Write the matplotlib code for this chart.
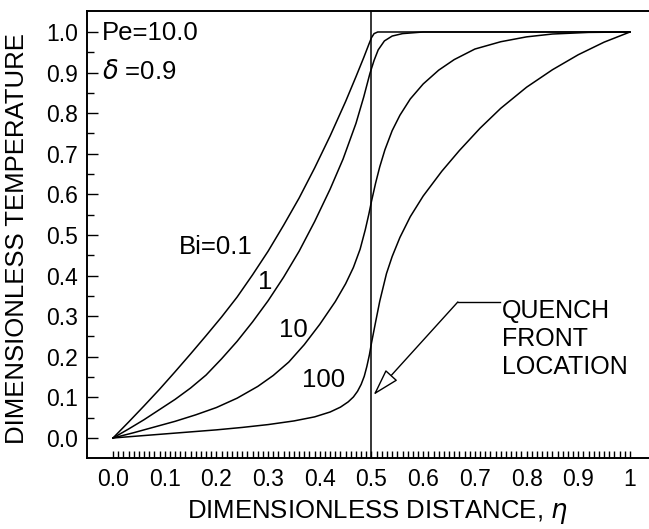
import numpy as np
import matplotlib
matplotlib.use("Agg")
import matplotlib.pyplot as plt
from matplotlib.ticker import FixedLocator, FixedFormatter

plt.rcParams['font.family'] = ['Liberation Sans', 'DejaVu Sans']
plt.rcParams['mathtext.fontset'] = 'dejavusans'

# curves (eta, temperature)
eta_bi01 = [0, 0.03, 0.06, 0.09, 0.12, 0.15, 0.18, 0.21, 0.24, 0.27, 0.30, 0.33, 0.36, 0.39, 0.42,
            0.45, 0.47, 0.485, 0.495, 0.5, 0.505, 0.512, 1.0]
t_bi01 = [0, 0.039, 0.079, 0.12, 0.163, 0.207, 0.252, 0.298, 0.347, 0.402, 0.460, 0.524, 0.591, 0.665,
          0.744, 0.829, 0.890, 0.937, 0.970, 0.986, 0.996, 1.0, 1.0]

eta_bi1 = [0, 0.03, 0.06, 0.09, 0.12, 0.15, 0.18, 0.21, 0.24, 0.27, 0.30, 0.33, 0.36, 0.39, 0.42,
           0.445, 0.47, 0.485, 0.497, 0.505, 0.513, 0.525, 0.54, 0.56, 0.6, 1.0]
t_bi1 = [0, 0.022, 0.045, 0.07, 0.095, 0.123, 0.155, 0.195, 0.238, 0.286, 0.338, 0.396, 0.460, 0.533,
         0.613, 0.687, 0.775, 0.84, 0.898, 0.93, 0.956, 0.978, 0.99, 0.996, 1.0, 1.0]

eta_bi10 = [0, 0.04, 0.08, 0.12, 0.16, 0.2, 0.24, 0.28, 0.31, 0.34, 0.37, 0.40, 0.43, 0.45, 0.465,
            0.478, 0.488, 0.495, 0.5, 0.508, 0.516, 0.526, 0.54, 0.555, 0.575, 0.6, 0.63, 0.66, 0.7,
            0.75, 0.8, 0.85, 0.92, 1.0]
t_bi10 = [0, 0.013, 0.027, 0.041, 0.057, 0.075, 0.098, 0.127, 0.154, 0.187, 0.23, 0.28, 0.336, 0.38,
          0.42, 0.465, 0.513, 0.552, 0.583, 0.628, 0.668, 0.71, 0.757, 0.795, 0.835, 0.872, 0.906,
          0.932, 0.958, 0.976, 0.988, 0.995, 0.999, 1.0]

eta_bi100 = [0, 0.05, 0.1, 0.15, 0.2, 0.25, 0.3, 0.35, 0.39, 0.42, 0.44, 0.455, 0.465, 0.473, 0.48,
             0.486, 0.491, 0.496, 0.5, 0.508, 0.516, 0.529, 0.54, 0.555, 0.575, 0.6, 0.636, 0.67,
             0.71, 0.75, 0.8, 0.85, 0.9, 0.95, 1.0]
t_bi100 = [0, 0.005, 0.010, 0.015, 0.020, 0.026, 0.033, 0.042, 0.052, 0.064, 0.076, 0.089, 0.101,
           0.115, 0.132, 0.152, 0.176, 0.205, 0.234, 0.286, 0.337, 0.405, 0.447, 0.494, 0.545, 0.596,
           0.657, 0.708, 0.763, 0.812, 0.864, 0.907, 0.944, 0.975, 1.0]

curve_labels = ["Bi=0.1", "1", "10", "100"]
label_pos = [(0.271, 0.470), (0.294, 0.384), (0.348, 0.266), (0.408, 0.143)]
label_ha = ["right", "center", "center", "center"]

quench_eta = 0.5
x_tick_labels = ["0.0", "0.1", "0.2", "0.3", "0.4", "0.5", "0.6", "0.7", "0.8", "0.9", "1"]

fig = plt.figure(figsize=(6.49, 5.29), dpi=100)
ax = fig.add_axes([87 / 649, 1 - 458 / 529, 1 - 87 / 649, (458 - 11) / 529])

for xs, ys in [(eta_bi01, t_bi01), (eta_bi1, t_bi1), (eta_bi10, t_bi10), (eta_bi100, t_bi100)]:
    ax.plot(xs, ys, color='black', lw=1.1, solid_joinstyle='round')

ax.axvline(quench_eta, color='black', lw=1.1)

for txt, (x, y), ha in zip(curve_labels, label_pos, label_ha):
    ax.text(x, y, txt, fontsize=18.5, ha=ha, va='center')

ax.text(-0.021, 0.998, "Pe=10.0", fontsize=18.5, ha='left', va='center')
ax.text(-0.021, 0.901, r"$\delta$ =0.9", fontsize=18.5, ha='left', va='center')

# quench front callout
ax.plot([0.749, 0.667], [0.335, 0.335], color='black', lw=1.0)
ax.annotate("", xy=(0.504, 0.106), xytext=(0.667, 0.335),
            arrowprops=dict(arrowstyle='-|>,head_length=1.7,head_width=0.5',
                            fc='white', ec='black', lw=1.0, shrinkA=0, shrinkB=0))
ax.text(0.752, 0.244, "QUENCH\nFRONT\nLOCATION", fontsize=18, ha='left', va='center',
        linespacing=1.2)

ax.set_xlim(-0.0503, 1.0368)
ax.set_ylim(-0.0493, 1.0517)

ax.spines['right'].set_visible(False)
for s in ['left', 'bottom', 'top']:
    ax.spines[s].set_linewidth(1.4)

ax.xaxis.set_major_locator(FixedLocator(np.arange(0, 1.001, 0.1)))
ax.xaxis.set_major_formatter(FixedFormatter(x_tick_labels))
ax.xaxis.set_minor_locator(FixedLocator(np.arange(0, 1.001, 0.01)))
ax.yaxis.set_major_locator(FixedLocator(np.arange(0, 1.001, 0.1)))
ax.yaxis.set_major_formatter(FixedFormatter(["%.1f" % v for v in np.arange(0, 1.001, 0.1)]))
ax.yaxis.set_minor_locator(FixedLocator(np.arange(0.05, 1.0, 0.1)))

ax.tick_params(which='both', direction='in', top=False, right=False, width=1.0)
ax.tick_params(axis='x', which='both', length=5, pad=7, labelsize=16.5)
ax.tick_params(axis='y', which='major', length=8, pad=6.5, labelsize=16.5)
ax.tick_params(axis='y', which='minor', length=5)

ax.set_xlabel(r"DIMENSIONLESS DISTANCE, $\eta$", fontsize=18.5)
ax.set_ylabel("DIMENSIONLESS TEMPERATURE", fontsize=18.5)
ax.xaxis.set_label_coords(0.516, -0.121)
ax.xaxis.label.set_va('center')
ax.yaxis.set_label_coords(-0.1246, 0.491)
ax.yaxis.label.set_va('center')

fig.savefig("out.png", dpi=100)
